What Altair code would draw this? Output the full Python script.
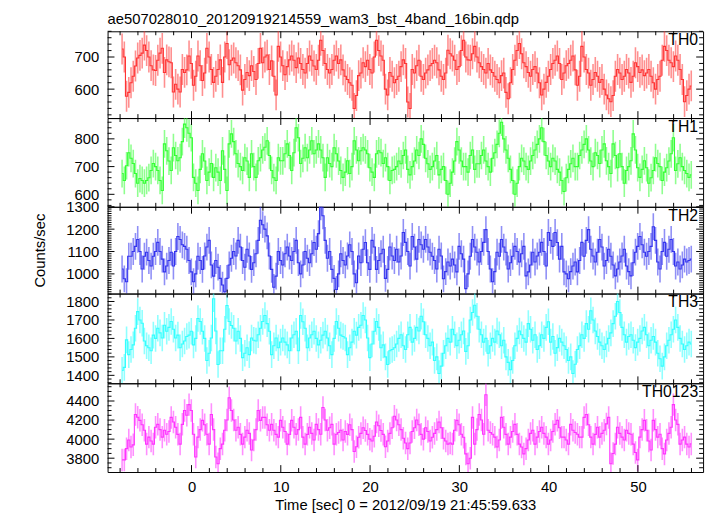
import altair as alt
import numpy as np
import pandas as pd

FONT = "Liberation Sans"
TITLE = "ae507028010_20120919214559_wam3_bst_4band_16bin.qdp"
X_TITLE = "Time [sec] 0 = 2012/09/19 21:45:59.633"
Y_TITLE = "Counts/sec"

# time bins (centres, seconds): 1/64 s x 16 = 0.25 s
T_FIRST = -7.775
BIN = 0.25

X_DOMAIN = [-9.4, 57.3]
X_LABELS = [0, 10, 20, 30, 40, 50]
X_MINOR_STEP = 2

PANEL_NAMES = ["TH0", "TH1", "TH2", "TH3", "TH0123"]
PANEL_COLORS = ["#ff3333", "#33ff33", "#3333ee", "#33ffff", "#ff33ff"]
PANEL_ERRORS = [48, 50, 60, 72, 118]
PANEL_DOMAINS = [[510, 780], [555, 875], [912, 1300], [1357, 1843], [3655, 4586]]
PANEL_LABELS = [[600, 700], [600, 700, 800], [1000, 1100, 1200, 1300],
                [1400, 1500, 1600, 1700, 1800], [3800, 4000, 4200, 4400]]
PANEL_MINOR_STEP = [20, 20, 10, 20, 50]
PANEL_HEIGHTS = [88, 90, 88, 91, 90]
W = 604

TH0 = [725, 700, 578, 590, 620, 640, 672, 697, 705, 712, 737, 720, 700, 673, 660, 658,
       690, 712, 727, 652, 691, 685, 682, 591, 615, 600, 591, 661, 652, 660, 703, 680,
       612, 640, 703, 673, 627, 650, 727, 700, 661, 621, 640, 661, 691, 621, 700, 742,
       676, 690, 697, 682, 673, 660, 597, 630, 652, 642, 673, 655, 630, 680, 727, 682,
       700, 706, 661, 688, 640, 582, 733, 700, 673, 645, 670, 691, 703, 690, 667, 697,
       680, 661, 650, 680, 703, 690, 672, 661, 690, 752, 720, 680, 661, 650, 661, 690,
       703, 680, 691, 660, 640, 630, 620, 612, 540, 580, 642, 650, 682, 670, 690, 661,
       650, 700, 752, 720, 703, 690, 600, 582, 652, 640, 620, 630, 640, 670, 691, 680,
       560, 540, 661, 650, 673, 690, 640, 630, 650, 660, 673, 680, 690, 682, 660, 640,
       630, 650, 721, 710, 703, 690, 661, 670, 720, 752, 700, 691, 690, 710, 733, 700,
       682, 670, 661, 650, 680, 660, 652, 640, 630, 620, 642, 650, 590, 570, 620, 661,
       690, 720, 742, 710, 682, 670, 652, 640, 661, 670, 650, 620, 582, 600, 621, 640,
       661, 680, 690, 703, 680, 630, 650, 673, 680, 690, 703, 660, 612, 640, 733, 700,
       661, 650, 612, 630, 652, 640, 621, 630, 600, 582, 570, 561, 580, 640, 661, 650,
       630, 640, 661, 650, 621, 640, 682, 670, 652, 660, 642, 650, 661, 640, 620, 600,
       630, 640, 690, 733, 720, 690, 682, 670, 703, 690, 661, 630, 561, 580, 600, 610]

TH1 = [675, 650, 703, 750, 730, 711, 675, 640, 657, 650, 640, 650, 660, 686, 711, 700,
       686, 650, 614, 782, 757, 720, 686, 768, 740, 721, 732, 790, 853, 840, 820, 804,
       661, 640, 614, 690, 746, 720, 650, 680, 711, 661, 696, 680, 650, 757, 690, 614,
       782, 818, 790, 746, 711, 700, 686, 732, 720, 661, 746, 700, 661, 721, 732, 760,
       770, 793, 740, 686, 660, 650, 732, 721, 721, 746, 782, 740, 686, 750, 840, 804,
       711, 730, 768, 732, 760, 793, 746, 760, 782, 760, 732, 661, 732, 711, 700, 768,
       746, 720, 686, 661, 680, 721, 675, 700, 793, 760, 721, 757, 768, 760, 746, 696,
       680, 661, 746, 757, 750, 711, 732, 700, 650, 686, 690, 700, 720, 710, 740, 760,
       690, 670, 700, 720, 760, 740, 800, 780, 730, 710, 690, 700, 720, 740, 670, 690,
       700, 650, 600, 640, 680, 720, 790, 760, 720, 700, 700, 680, 740, 760, 690, 710,
       710, 740, 760, 720, 700, 680, 730, 750, 780, 820, 860, 800, 760, 730, 690, 650,
       600, 640, 700, 730, 720, 700, 690, 720, 740, 760, 780, 800, 840, 790, 740, 720,
       700, 730, 720, 690, 680, 650, 610, 660, 690, 710, 730, 700, 700, 740, 760, 780,
       800, 760, 720, 700, 750, 740, 711, 760, 782, 721, 700, 675, 782, 740, 696, 746,
       700, 640, 686, 700, 721, 818, 760, 696, 661, 690, 721, 696, 640, 660, 686, 732,
       711, 700, 650, 680, 696, 720, 746, 804, 686, 710, 732, 700, 686, 675, 661, 670]

TH2 = [1022, 978, 965, 1079, 1079, 1100, 1123, 1154, 1100, 1022, 1079, 1097, 1060, 1035, 1079, 1100,
       1141, 1100, 1066, 1009, 1035, 1060, 1097, 1035, 1100, 1167, 1154, 1130, 1123, 1110, 1060, 1009,
       965, 1000, 1079, 1060, 1020, 1080, 1120, 1150, 1040, 990, 1060, 1030, 980, 950, 920, 980,
       1040, 1070, 1100, 1080, 1150, 1120, 1060, 1030, 1110, 1080, 1020, 1050, 1090, 1150, 1240, 1220,
       1200, 1170, 1080, 1020, 940, 990, 1100, 1060, 1040, 1090, 1120, 1080, 1060, 1100, 1150, 1050,
       1000, 1040, 1100, 1070, 1050, 1090, 1140, 1110, 1180, 1300, 1260, 1150, 1070, 1100, 1020, 980,
       930, 1000, 1090, 1060, 1040, 1080, 1130, 1100, 1000, 960, 1080, 1050, 1110, 1140, 1050, 1020,
       1150, 1120, 1020, 1060, 1090, 1110, 980, 1020, 1120, 1080, 1060, 1110, 1053, 1080, 1185, 1141,
       1100, 1035, 1167, 1120, 1066, 1154, 1130, 1110, 1154, 1120, 1097, 1079, 1060, 1022, 1110, 1080,
       978, 1010, 1053, 1035, 1066, 1040, 1009, 1123, 1090, 1066, 934, 1000, 1079, 1154, 1120, 1097,
       1053, 1100, 1141, 1198, 1100, 1022, 965, 1010, 1097, 1079, 1154, 1120, 1097, 1022, 1050, 1079,
       1123, 1100, 1053, 1090, 1123, 991, 1009, 1040, 1097, 1053, 1080, 1097, 1141, 1100, 1035, 1185,
       1150, 1123, 1185, 1140, 1066, 1123, 1009, 1000, 978, 1010, 1035, 1053, 1009, 1060, 1141, 1079,
       1150, 1198, 1110, 1080, 1053, 1097, 1154, 1120, 1035, 1060, 1110, 1079, 1040, 991, 1022, 1053,
       1080, 1110, 1035, 1010, 991, 1050, 1097, 1123, 1167, 1130, 1097, 1079, 1100, 1123, 1211, 1150,
       1053, 1022, 1100, 1141, 1079, 1110, 1154, 1100, 1035, 1053, 1022, 1040, 1066, 1053, 1060, 1066]

TH3 = [1427, 1443, 1592, 1512, 1540, 1565, 1655, 1745, 1700, 1682, 1586, 1560, 1549, 1533, 1618, 1600,
       1655, 1630, 1602, 1671, 1639, 1660, 1692, 1650, 1602, 1618, 1549, 1570, 1586, 1610, 1618, 1639,
       1565, 1600, 1708, 1692, 1639, 1600, 1480, 1520, 1602, 1815, 1640, 1459, 1533, 1533, 1650, 1778,
       1692, 1670, 1655, 1586, 1639, 1600, 1496, 1520, 1549, 1512, 1602, 1590, 1586, 1620, 1655, 1692,
       1724, 1680, 1639, 1512, 1560, 1602, 1549, 1580, 1602, 1580, 1565, 1533, 1602, 1620, 1639, 1533,
       1724, 1690, 1655, 1549, 1602, 1620, 1639, 1600, 1565, 1590, 1618, 1639, 1602, 1560, 1512, 1600,
       1692, 1655, 1618, 1610, 1602, 1512, 1549, 1580, 1639, 1618, 1660, 1671, 1724, 1700, 1602, 1496,
       1570, 1639, 1692, 1660, 1549, 1565, 1500, 1459, 1533, 1540, 1549, 1570, 1600, 1620, 1560, 1540,
       1620, 1660, 1580, 1600, 1660, 1640, 1720, 1690, 1620, 1600, 1560, 1580, 1480, 1500, 1410, 1450,
       1520, 1560, 1600, 1580, 1650, 1620, 1560, 1590, 1620, 1640, 1530, 1560, 1700, 1740, 1780, 1720,
       1650, 1620, 1580, 1600, 1520, 1560, 1600, 1580, 1640, 1620, 1560, 1590, 1500, 1470, 1430, 1480,
       1560, 1600, 1640, 1620, 1600, 1580, 1680, 1650, 1590, 1620, 1540, 1560, 1620, 1600, 1660, 1690,
       1580, 1610, 1520, 1550, 1600, 1580, 1560, 1540, 1480, 1500, 1410, 1460, 1540, 1560, 1620, 1600,
       1680, 1650, 1750, 1700, 1640, 1610, 1580, 1560, 1540, 1570, 1600, 1630, 1680, 1720, 1800, 1740,
       1660, 1620, 1580, 1610, 1620, 1590, 1550, 1580, 1600, 1640, 1660, 1620, 1560, 1590, 1610, 1580,
       1520, 1490, 1450, 1500, 1560, 1590, 1620, 1650, 1700, 1660, 1600, 1570, 1540, 1560, 1580, 1570]

TH0123 = [3782, 3782, 3900, 3990, 3917, 3940, 4259, 4230, 4197, 4150, 4093, 3948, 4021, 3980, 3948, 4124,
          4155, 4100, 4021, 4093, 4052, 4080, 4228, 4180, 4124, 4050, 3948, 4155, 4300, 4250, 4362, 4300,
          4052, 3813, 4021, 4100, 4197, 4150, 4052, 3948, 4259, 4100, 3813, 3741, 3900, 3948, 4093, 4200,
          4435, 4300, 4200, 4093, 4124, 4050, 3948, 4021, 4093, 4060, 3886, 3990, 4100, 4300, 4197, 4228,
          4228, 4150, 4093, 4155, 4093, 4050, 4021, 4197, 4124, 4080, 3948, 4050, 4197, 4124, 4052, 4100,
          4228, 4021, 3948, 4050, 4124, 4060, 3990, 4155, 4100, 4052, 4331, 4200, 4093, 4120, 4155, 3948,
          4052, 4070, 4093, 3990, 4080, 4050, 4150, 4100, 3870, 3920, 4020, 4060, 4120, 4090, 4050, 4000,
          3980, 4030, 4180, 4140, 4090, 4050, 3920, 3980, 4060, 4120, 4240, 4200, 4150, 4100, 4010, 3960,
          3900, 3960, 4080, 4120, 4200, 4150, 4050, 4000, 4120, 4080, 3980, 4020, 4060, 4100, 4180, 4120,
          4010, 3980, 3948, 3960, 3948, 4093, 4197, 4150, 4052, 4020, 3845, 3741, 3800, 4228, 3948, 4100,
          4259, 4200, 4052, 4466, 4093, 4070, 4052, 4021, 3917, 3990, 4228, 4124, 4050, 3948, 4021, 4080,
          4155, 4050, 3948, 3917, 3845, 3900, 3990, 4060, 4093, 3948, 4021, 4080, 4124, 4060, 4021, 3948,
          3990, 4080, 4155, 4197, 4120, 4021, 4021, 3990, 3948, 4155, 4093, 4070, 4052, 4021, 4021, 4228,
          4259, 4150, 4021, 3948, 4050, 4124, 4021, 4060, 4093, 4160, 4228, 3741, 3850, 3948, 4124, 4060,
          4021, 3990, 4093, 4060, 4052, 3948, 3860, 3782, 4021, 4100, 4197, 4093, 3980, 3886, 4197, 4100,
          4021, 4052, 3900, 3845, 3990, 4060, 4124, 4362, 4200, 4155, 3948, 3990, 4021, 3948, 3917, 3950]

SERIES = [TH0, TH1, TH2, TH3, TH0123]

X_SCALE = alt.Scale(domain=X_DOMAIN, nice=False, zero=False)
MAJ_LEN = 7
MIN_LEN = 4


def rule_layers(vals, scale, axis, orient, length, H):
    d = pd.DataFrame({"p": vals})
    out = []
    if orient == "y":
        enc_pos = alt.Y("p:Q", scale=scale, axis=axis)
        out.append(alt.Chart(d).mark_rule(color="black", strokeWidth=1).encode(
            y=enc_pos, x=alt.value(0), x2=alt.value(length)))
        out.append(alt.Chart(d).mark_rule(color="black", strokeWidth=1).encode(
            y=enc_pos, x=alt.value(W - length), x2=alt.value(W)))
    else:
        enc_pos = alt.X("p:Q", scale=scale, axis=axis)
        out.append(alt.Chart(d).mark_rule(color="black", strokeWidth=1).encode(
            x=enc_pos, y=alt.value(0), y2=alt.value(length)))
        out.append(alt.Chart(d).mark_rule(color="black", strokeWidth=1).encode(
            x=enc_pos, y=alt.value(H - length), y2=alt.value(H)))
    return out


panels = []
n = len(PANEL_NAMES)
for i in range(n):
    vals = np.array(SERIES[i], dtype=float)
    t = T_FIRST + BIN * np.arange(len(vals))
    err = PANEL_ERRORS[i]
    df = pd.DataFrame({"t": t, "v": vals, "lo": vals - err, "hi": vals + err})
    H = PANEL_HEIGHTS[i]
    color = PANEL_COLORS[i]
    last = i == n - 1

    y_scale = alt.Scale(domain=PANEL_DOMAINS[i], nice=False, zero=False)
    y_axis = alt.Axis(values=PANEL_LABELS[i], format="d", ticks=False, domain=False, grid=False,
                      labelPadding=9, labelFlush=False, labelFontSize=15, labelFont=FONT,
                      labelColor="black", labelOverlap=False,
                      title=Y_TITLE if i == 2 else None, titleFontSize=15, titleFont=FONT,
                      titleFontWeight="normal", titlePadding=19, titleColor="black")
    if last:
        x_axis = alt.Axis(values=X_LABELS, format="d", ticks=False, domain=False, grid=False,
                          labelPadding=8, labelFontSize=15, labelFont=FONT, labelColor="black",
                          labelFlush=False,
                          title=X_TITLE, titleFontSize=15, titleFont=FONT, titleColor="black",
                          titleFontWeight="normal", titlePadding=3)
    else:
        x_axis = None

    base = alt.Chart(df)
    bars = base.mark_rule(color=color, opacity=0.55, strokeWidth=1.6, clip=True).encode(
        x=alt.X("t:Q", scale=X_SCALE, axis=x_axis),
        y=alt.Y("lo:Q", scale=y_scale, axis=y_axis),
        y2="hi:Q",
    )
    line = base.mark_line(color=color, strokeWidth=1.1, interpolate="step", clip=True).encode(
        x=alt.X("t:Q", scale=X_SCALE, axis=x_axis),
        y=alt.Y("v:Q", scale=y_scale, axis=y_axis),
    )

    lo_d, hi_d = PANEL_DOMAINS[i]
    step = PANEL_MINOR_STEP[i]
    minor_y = [v for v in np.arange(np.ceil(lo_d / step) * step, hi_d + 0.1, step)
               if v not in PANEL_LABELS[i]]
    minor_x = [v for v in np.arange(-8, 57, X_MINOR_STEP) if v not in X_LABELS]

    ticks = []
    ticks += rule_layers(PANEL_LABELS[i], y_scale, y_axis, "y", MAJ_LEN, H)
    ticks += rule_layers(minor_y, y_scale, y_axis, "y", MIN_LEN, H)
    ticks += rule_layers(X_LABELS, X_SCALE, x_axis, "x", MAJ_LEN, H)
    ticks += rule_layers(minor_x, X_SCALE, x_axis, "x", MIN_LEN, H)

    label = alt.Chart(pd.DataFrame({"name": [PANEL_NAMES[i]]})).mark_text(
        align="right", baseline="alphabetic", fontSize=16, font=FONT, color="black"
    ).encode(x=alt.value(W - 5), y=alt.value(14), text="name:N")

    layer = alt.layer(bars, line, *ticks, label).properties(width=W, height=H)
    if i == 0:
        layer = layer.properties(title=alt.TitleParams(
            TITLE, anchor="start", frame="group", fontSize=15, font=FONT,
            fontWeight="normal", color="black", offset=4))
    panels.append(layer)

chart = alt.vconcat(*panels, spacing=0, bounds="flush").properties(
    padding={"left": 24, "top": 0, "right": 5, "bottom": 0}
).configure_view(stroke="black", strokeWidth=1).configure_axis(grid=False)

chart.save("out.html", embed_options={"renderer": "svg", "actions": False})
